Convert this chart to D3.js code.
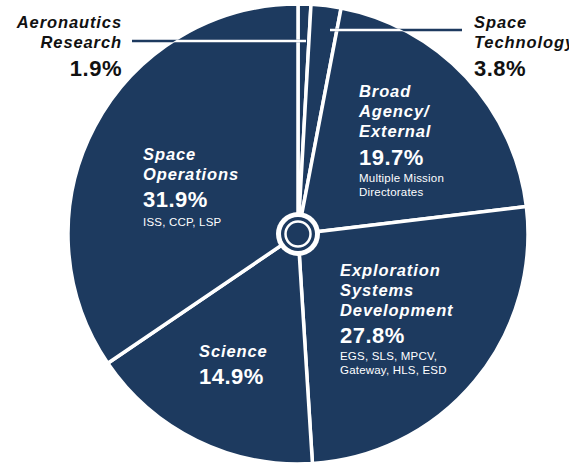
<!DOCTYPE html>
<html>
<head>
<meta charset="utf-8">
<script src="https://cdn.jsdelivr.net/npm/d3@7"></script>
<style>
  body { margin: 0; background: #fff; }
  svg { display: block; font-family: "Liberation Sans", Arial, sans-serif; }
</style>
</head>
<body>
<div id="viz"></div>
<script>
const width = 569;
const height = 464;
const navy = '#1d3a5f';

// slices, clockwise from 12 o'clock
const slices = ['Aeronautics Research', 'Space Technology', 'Broad Agency/External',
  'Exploration Systems Development', 'Science', 'Space Operations'];
// share printed on each label
const shares = [1.9, 3.8, 19.7, 27.8, 14.9, 31.9];
// angular size of each wedge as drawn (percent of the circle)
const wedgeShares = [0.9, 2.1, 20.1, 25.9, 16.5, 34.5];
// programme lines under some labels
const programmes = [[], [], ['Multiple Mission', 'Directorates'],
  ['EGS, SLS, MPCV,', 'Gateway, HLS, ESD'], [], ['ISS, CCP, LSP']];

const cx = 298, cy = 234, r = 230;

const svg = d3.select('#viz')
  .append('svg')
    .attr('width', width)
    .attr('height', height);

const pie = d3.pie().sort(null).value(d => d.w);
const arcs = pie(slices.map((name, i) => ({name, w: wedgeShares[i], share: shares[i]})));
const arc = d3.arc().innerRadius(0).outerRadius(r);

const g = svg.append('g').attr('transform', `translate(${cx},${cy})`);
g.selectAll('path')
  .data(arcs)
  .join('path')
    .attr('d', arc)
    .attr('fill', navy)
    .attr('stroke', '#fff')
    .attr('stroke-width', 3.5)
    .attr('stroke-linejoin', 'round');

// hub
g.append('circle').attr('r', 22).attr('fill', '#fff');
g.append('circle').attr('r', 17).attr('fill', navy);
g.append('circle').attr('r', 12.5).attr('fill', navy).attr('stroke', '#fff').attr('stroke-width', 2.5);

// leader lines: navy outside the pie, white inside
svg.append('clipPath').attr('id', 'pieClip')
  .append('circle').attr('cx', cx).attr('cy', cy).attr('r', r - 1);
const leaders = [
  {x1: 132, x2: 306, y: 41},
  {x1: 330, x2: 462, y: 30}
];
svg.selectAll('line.lead-out')
  .data(leaders)
  .join('line')
    .attr('class', 'lead-out')
    .attr('x1', d => d.x1).attr('x2', d => d.x2)
    .attr('y1', d => d.y).attr('y2', d => d.y)
    .attr('stroke', navy).attr('stroke-width', 2.5);
svg.append('g').attr('clip-path', 'url(#pieClip)')
  .selectAll('line')
  .data(leaders)
  .join('line')
    .attr('x1', d => d.x1).attr('x2', d => d.x2)
    .attr('y1', d => d.y).attr('y2', d => d.y)
    .attr('stroke', '#fff').attr('stroke-width', 2.5);

// labels
const fmt = v => d3.format('.1f')(v) + '%';
const labels = [
  {i: 0, x: 122, anchor: 'end', color: '#111', name: ['Aeronautics', 'Research'], ys: [28, 48], py: 76},
  {i: 1, x: 474, anchor: 'start', color: '#111', name: ['Space', 'Technology'], ys: [28, 48], py: 76},
  {i: 2, x: 359, anchor: 'start', color: '#fff', name: ['Broad', 'Agency/', 'External'], ys: [97, 117, 137], py: 165, sy: [182, 196]},
  {i: 3, x: 340, anchor: 'start', color: '#fff', name: ['Exploration', 'Systems', 'Development'], ys: [276, 296, 316], py: 343, sy: [360, 374]},
  {i: 4, x: 199, anchor: 'start', color: '#fff', name: ['Science'], ys: [357], py: 384},
  {i: 5, x: 143, anchor: 'start', color: '#fff', name: ['Space', 'Operations'], ys: [160, 180], py: 207, sy: [226]}
];

labels.forEach(l => {
  const t = svg.append('g').attr('text-anchor', l.anchor).attr('fill', l.color);
  l.name.forEach((s, k) => {
    t.append('text')
      .attr('x', l.x).attr('y', l.ys[k])
      .style('font-size', '16.5px').style('font-weight', 'bold').style('font-style', 'italic')
      .style('letter-spacing', '0.9px')
      .text(s);
  });
  t.append('text')
    .attr('x', l.x).attr('y', l.py)
    .style('font-size', '22px').style('font-weight', 'bold')
    .style('letter-spacing', '0.5px')
    .text(fmt(shares[l.i]));
  programmes[l.i].forEach((s, k) => {
    t.append('text')
      .attr('x', l.x).attr('y', l.sy[k])
      .style('font-size', '11.5px')
      .style('letter-spacing', '0.2px')
      .text(s);
  });
});
</script>
</body>
</html>
